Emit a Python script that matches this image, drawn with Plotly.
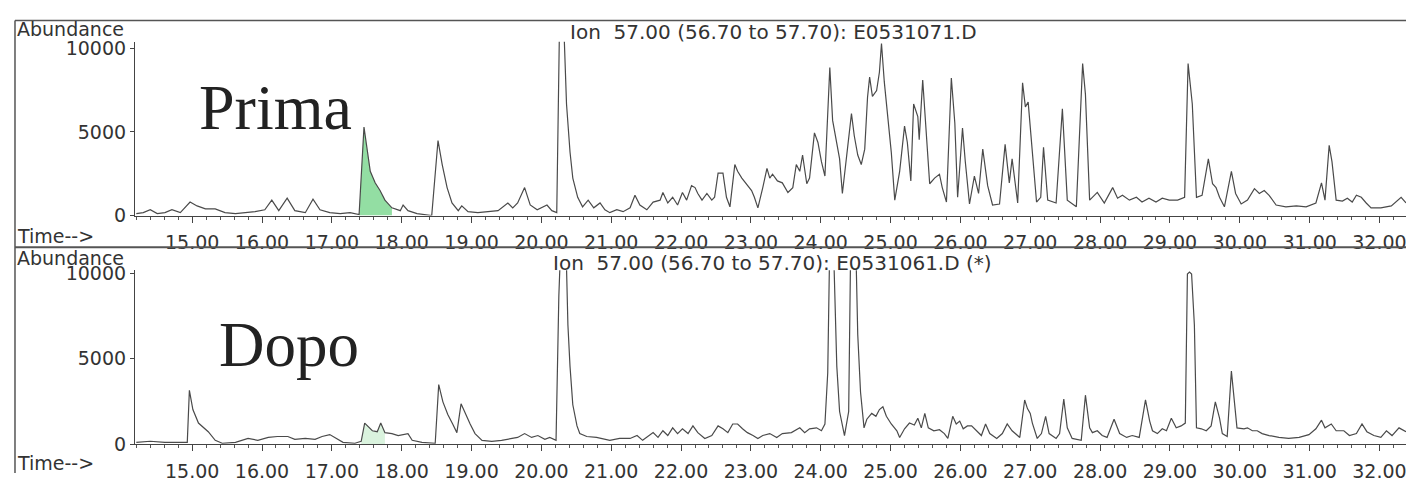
import plotly.graph_objects as go
import numpy as np

# ---------------- data (retention time in minutes, abundance) ----------------
prima_time = [
    14.20, 14.30, 14.40, 14.50, 14.61, 14.71, 14.83, 14.97, 15.07, 15.19,
    15.33, 15.47, 15.62, 15.76, 15.90, 16.04, 16.14, 16.24, 16.36, 16.47,
    16.62, 16.73, 16.83, 16.97, 17.12, 17.26, 17.39, 17.46, 17.50, 17.55,
    17.62, 17.69, 17.76, 17.86, 17.98, 18.02, 18.09, 18.22, 18.43, 18.52,
    18.58, 18.65, 18.72, 18.81, 18.86, 18.95, 19.09, 19.23, 19.38, 19.52,
    19.59, 19.66, 19.76, 19.84, 19.94, 20.08, 20.15, 20.22, 20.26, 20.32,
    20.36, 20.41, 20.45, 20.52, 20.59, 20.67, 20.75, 20.84, 20.91, 20.98,
    21.08, 21.17, 21.27, 21.34, 21.41, 21.51, 21.60, 21.70, 21.74, 21.81,
    21.88, 21.95, 22.02, 22.08, 22.15, 22.20, 22.24, 22.30, 22.37, 22.44,
    22.48, 22.53, 22.60, 22.65, 22.70, 22.77, 22.81, 22.87, 22.94, 23.01,
    23.05, 23.10, 23.17, 23.23, 23.27, 23.31, 23.38, 23.45, 23.53, 23.60,
    23.65, 23.70, 23.74, 23.80, 23.84, 23.91, 23.96, 24.01, 24.06, 24.13,
    24.17, 24.23, 24.27, 24.31, 24.38, 24.44, 24.48, 24.53, 24.58, 24.63,
    24.67, 24.70, 24.74, 24.80, 24.84, 24.87, 24.91, 24.96, 25.01, 25.06,
    25.13, 25.20, 25.24, 25.29, 25.33, 25.39, 25.41, 25.46, 25.51, 25.56,
    25.63, 25.70, 25.74, 25.80, 25.87, 25.92, 25.96, 26.03, 26.07, 26.13,
    26.20, 26.26, 26.32, 26.39, 26.46, 26.56, 26.64, 26.70, 26.74, 26.82,
    26.89, 26.93, 26.97, 27.03, 27.09, 27.15, 27.19, 27.25, 27.37, 27.46,
    27.53, 27.66, 27.75, 27.79, 27.85, 27.96, 28.06, 28.18, 28.25, 28.32,
    28.42, 28.52, 28.60, 28.70, 28.80, 28.89, 28.99, 29.11, 29.21, 29.26,
    29.32, 29.38, 29.46, 29.55, 29.61, 29.66, 29.71, 29.78, 29.88, 29.94,
    30.02, 30.11, 30.21, 30.28, 30.35, 30.42, 30.52, 30.66, 30.81, 30.95,
    31.09, 31.17, 31.22, 31.28, 31.32, 31.38, 31.47, 31.54, 31.61, 31.67,
    31.74, 31.81, 31.88, 32.02, 32.17, 32.31, 32.38,
]
prima_abund = [
    115, 170, 345, 115, 170, 345, 170, 805, 575, 400,
    400, 170, 115, 170, 230, 345, 920, 290, 1035, 290,
    170, 980, 345, 170, 115, 170, 60, 5290, 4025, 2645,
    1955, 1495, 920, 460, 290, 630, 290, 115, 0, 4485,
    3050, 1670, 750, 290, 575, 230, 170, 230, 290, 750,
    460, 750, 1670, 630, 345, 630, 290, 170, 11500, 11500,
    6670, 3795, 2240, 1090, 520, 920, 460, 750, 345, 170,
    345, 230, 460, 1210, 630, 345, 805, 920, 1380, 750,
    1090, 630, 1380, 920, 1785, 1670, 1320, 920, 1320, 920,
    1090, 2530, 2530, 1090, 520, 3050, 2645, 2240, 1900, 1495,
    1090, 460, 1670, 2820, 2240, 2470, 2070, 1955, 1380, 1670,
    3050, 2645, 3620, 1900, 2240, 4945, 4370, 3220, 2360, 8855,
    5690, 4255, 3390, 1320, 3970, 6095, 4770, 3620, 3050, 3970,
    7070, 8280, 7130, 7475, 8570, 10290, 7990, 6095, 3795, 920,
    2645, 5350, 4370, 2070, 6670, 5920, 4540, 8110, 4945, 1900,
    2240, 2470, 1670, 805, 8220, 5520, 1090, 5230, 3220, 690,
    2360, 1320, 3970, 1785, 630, 690, 4255, 1955, 3390, 750,
    7935, 6500, 6785, 3795, 805, 1090, 4080, 920, 750, 6380,
    920, 520, 9085, 7245, 920, 1380, 750, 1670, 1035, 1210,
    920, 1090, 805, 1035, 805, 1035, 920, 920, 1090, 9085,
    6670, 1090, 1210, 3390, 1900, 1670, 1090, 520, 2645, 1320,
    690, 920, 1610, 1320, 1495, 1210, 630, 520, 575, 520,
    750, 1955, 920, 4200, 3220, 920, 860, 1035, 805, 1210,
    1090, 750, 460, 460, 575, 1090, 750,
]

dopo_time = [
    14.20, 14.40, 14.61, 14.83, 14.93, 14.96, 15.01, 15.09, 15.16, 15.23,
    15.33, 15.43, 15.62, 15.80, 15.94, 16.09, 16.22, 16.37, 16.47, 16.62,
    16.76, 16.86, 16.97, 17.07, 17.16, 17.33, 17.42, 17.47, 17.58, 17.65,
    17.70, 17.76, 17.86, 17.95, 18.09, 18.15, 18.29, 18.48, 18.53, 18.59,
    18.66, 18.73, 18.79, 18.85, 18.91, 18.98, 19.05, 19.15, 19.29, 19.43,
    19.58, 19.66, 19.76, 19.86, 19.95, 20.05, 20.12, 20.21, 20.25, 20.28,
    20.35, 20.38, 20.41, 20.45, 20.51, 20.55, 20.65, 20.79, 20.98, 21.12,
    21.27, 21.37, 21.45, 21.60, 21.67, 21.74, 21.81, 21.88, 21.95, 22.02,
    22.10, 22.17, 22.24, 22.34, 22.44, 22.53, 22.60, 22.67, 22.74, 22.81,
    22.88, 22.95, 23.03, 23.10, 23.17, 23.27, 23.37, 23.45, 23.58, 23.70,
    23.77, 23.84, 23.94, 24.01, 24.06, 24.10, 24.13, 24.18, 24.23, 24.27,
    24.34, 24.40, 24.43, 24.50, 24.53, 24.57, 24.62, 24.66, 24.73, 24.79,
    24.84, 24.89, 24.94, 25.01, 25.09, 25.13, 25.20, 25.27, 25.34, 25.39,
    25.44, 25.49, 25.54, 25.62, 25.70, 25.77, 25.82, 25.89, 25.94, 25.99,
    26.04, 26.10, 26.16, 26.23, 26.30, 26.36, 26.42, 26.52, 26.60, 26.67,
    26.74, 26.85, 26.92, 26.96, 27.00, 27.03, 27.10, 27.16, 27.22, 27.27,
    27.37, 27.42, 27.48, 27.53, 27.60, 27.73, 27.79, 27.85, 27.89, 27.96,
    28.03, 28.10, 28.20, 28.28, 28.38, 28.46, 28.56, 28.65, 28.71, 28.75,
    28.82, 28.89, 28.95, 29.02, 29.09, 29.16, 29.22, 29.25, 29.28, 29.31,
    29.35, 29.38, 29.45, 29.52, 29.59, 29.65, 29.71, 29.75, 29.82, 29.88,
    29.92, 29.96, 30.06, 30.11, 30.18, 30.25, 30.32, 30.42, 30.56, 30.70,
    30.85, 30.99, 31.09, 31.17, 31.22, 31.31, 31.38, 31.49, 31.57, 31.67,
    31.75, 31.82, 31.92, 32.02, 32.10, 32.18, 32.28, 32.38,
]
dopo_abund = [
    110, 170, 110, 110, 110, 3150, 2025, 1235, 955, 730,
    225, 55, 110, 335, 225, 395, 450, 450, 280, 335,
    280, 450, 560, 335, 110, 55, 170, 1235, 785, 730,
    1235, 675, 620, 505, 620, 225, 110, 55, 3485, 2475,
    1740, 1180, 675, 2360, 1800, 1180, 620, 225, 170, 225,
    335, 395, 620, 395, 505, 280, 395, 225, 8655, 12000,
    12000, 6970, 4550, 2305, 1070, 620, 450, 395, 225, 335,
    335, 505, 225, 675, 395, 785, 505, 955, 620, 900,
    620, 1070, 675, 335, 505, 1070, 900, 675, 1180, 1180,
    900, 675, 505, 335, 505, 620, 395, 620, 675, 955,
    675, 900, 955, 785, 1180, 4160, 12000, 12000, 4550, 1910,
    505, 1910, 12000, 12000, 6405, 3035, 955, 1460, 1800, 1630,
    2025, 2190, 1630, 1180, 785, 395, 900, 1235, 1125, 1520,
    955, 1800, 955, 785, 845, 620, 335, 1630, 1180, 1350,
    900, 1070, 1070, 785, 505, 1180, 620, 335, 620, 1180,
    785, 395, 2585, 2080, 1800, 1235, 335, 620, 1630, 620,
    335, 620, 2640, 955, 335, 225, 2865, 955, 675, 785,
    505, 395, 1460, 620, 395, 505, 395, 2585, 1350, 785,
    620, 900, 785, 1520, 955, 1070, 1235, 9950, 10060, 9950,
    6970, 955, 900, 785, 1070, 2475, 1520, 620, 450, 4270,
    2475, 955, 900, 955, 785, 785, 620, 505, 395, 335,
    395, 560, 900, 1405, 955, 1180, 785, 785, 505, 620,
    1180, 730, 505, 395, 785, 505, 955, 730,
]

x_tick_values = [15, 16, 17, 18, 19, 20, 21, 22, 23, 24, 25, 26, 27, 28, 29, 30, 31, 32]
y_tick_values = [0, 5000, 10000]
y_tick_text = ["0", "5000", "10000"]
top_title = "Ion\u00a0 57.00 (56.70 to 57.70): E0531071.D"
bottom_title = "Ion\u00a0 57.00 (56.70 to 57.70): E0531061.D (*)"
prima_label = "Prima"
dopo_label = "Dopo"
prima_fill_window = (17.38, 17.87)
dopo_fill_window = (17.41, 17.77)

# ---------------- layout helpers ----------------
W, H = 1407, 484


def py(yp):
    return 1 - yp / H


def px(xp):
    return xp / W


LINE = "#4a4a4a"
TXT = "#333333"
SANS = "DejaVu Sans"

pt = np.array(prima_time)
pa = np.array(prima_abund)
dt = np.array(dopo_time)
da = np.array(dopo_abund)

fig = go.Figure()

m1 = (pt >= prima_fill_window[0]) & (pt <= prima_fill_window[1])
fig.add_trace(go.Scatter(x=pt[m1], y=pa[m1], mode="lines", fill="tozeroy",
                         fillcolor="rgba(120,214,140,0.80)", line=dict(width=0),
                         xaxis="x", yaxis="y", hoverinfo="skip", showlegend=False))
fig.add_trace(go.Scatter(x=pt, y=pa, mode="lines", line=dict(color=LINE, width=1.2),
                         xaxis="x", yaxis="y", showlegend=False))

m2 = (dt >= dopo_fill_window[0]) & (dt <= dopo_fill_window[1])
fig.add_trace(go.Scatter(x=dt[m2], y=da[m2], mode="lines", fill="tozeroy",
                         fillcolor="rgba(150,220,160,0.35)", line=dict(width=0),
                         xaxis="x2", yaxis="y2", hoverinfo="skip", showlegend=False))
fig.add_trace(go.Scatter(x=dt, y=da, mode="lines", line=dict(color=LINE, width=1.2),
                         xaxis="x2", yaxis="y2", showlegend=False))

xcommon = dict(range=[14.18, 32.38], showline=True, linecolor="#444", linewidth=1,
               ticks="outside", ticklen=6, tickcolor="#444", tickwidth=1,
               tickvals=x_tick_values, tickformat=".2f", showgrid=False, zeroline=False,
               minor=dict(tick0=15, dtick=0.2, ticks="outside", ticklen=3,
                          tickcolor="#555", showgrid=False),
               tickfont=dict(family=SANS, size=19, color=TXT), ticklabelstandoff=4,
               ticklabeloverflow="allow", fixedrange=True)
ycommon = dict(showline=True, linecolor="#444", linewidth=1, ticks="outside", ticklen=4,
               tickcolor="#444", tickvals=y_tick_values, ticktext=y_tick_text,
               showgrid=False, zeroline=False,
               tickfont=dict(family=SANS, size=19, color=TXT), fixedrange=True)

fig.update_layout(
    width=W, height=H, margin=dict(l=0, r=0, t=0, b=0),
    paper_bgcolor="white", plot_bgcolor="white", showlegend=False,
    xaxis=dict(domain=[px(135), 1], anchor="y", **xcommon),
    yaxis=dict(domain=[py(216), py(35)], anchor="x", range=[0, 10400], **ycommon),
    xaxis2=dict(domain=[px(135), 1], anchor="y2", **xcommon),
    yaxis2=dict(domain=[py(454), py(273)], anchor="x2", range=[0, 10170], **ycommon),
)

# frame lines
frame = [
    (15, 13, W, 13, 1.5),
    (15, 13, 15, H, 1.5),
    (15, 249, W, 249, 2),
]
for x0, y0, x1, y1, w in frame:
    fig.add_shape(type="line", xref="paper", yref="paper",
                  x0=px(x0), y0=py(y0), x1=px(x1), y1=py(y1),
                  line=dict(color="#555", width=w))


def label(text, x, y, size, family=SANS, xanchor="left", color=TXT):
    fig.add_annotation(text=text, xref="paper", yref="paper", x=px(x), y=py(y),
                       xanchor=xanchor, yanchor="middle", showarrow=False,
                       borderpad=0, font=dict(family=family, size=size, color=color))


label("Abundance", 16, 22, 19)
label("Time-->", 16, 237, 19)
label(top_title, 774, 25, 20, xanchor="center")
label("Abundance", 16, 260, 19)
label("Time-->", 16, 474, 19)
label(bottom_title, 773, 265, 20, xanchor="center")
label(prima_label, 198, 104, 64, family="Liberation Serif", color="#222")
label(dopo_label, 218, 351, 63, family="Liberation Serif", color="#222")

fig.write_html("out.html")
